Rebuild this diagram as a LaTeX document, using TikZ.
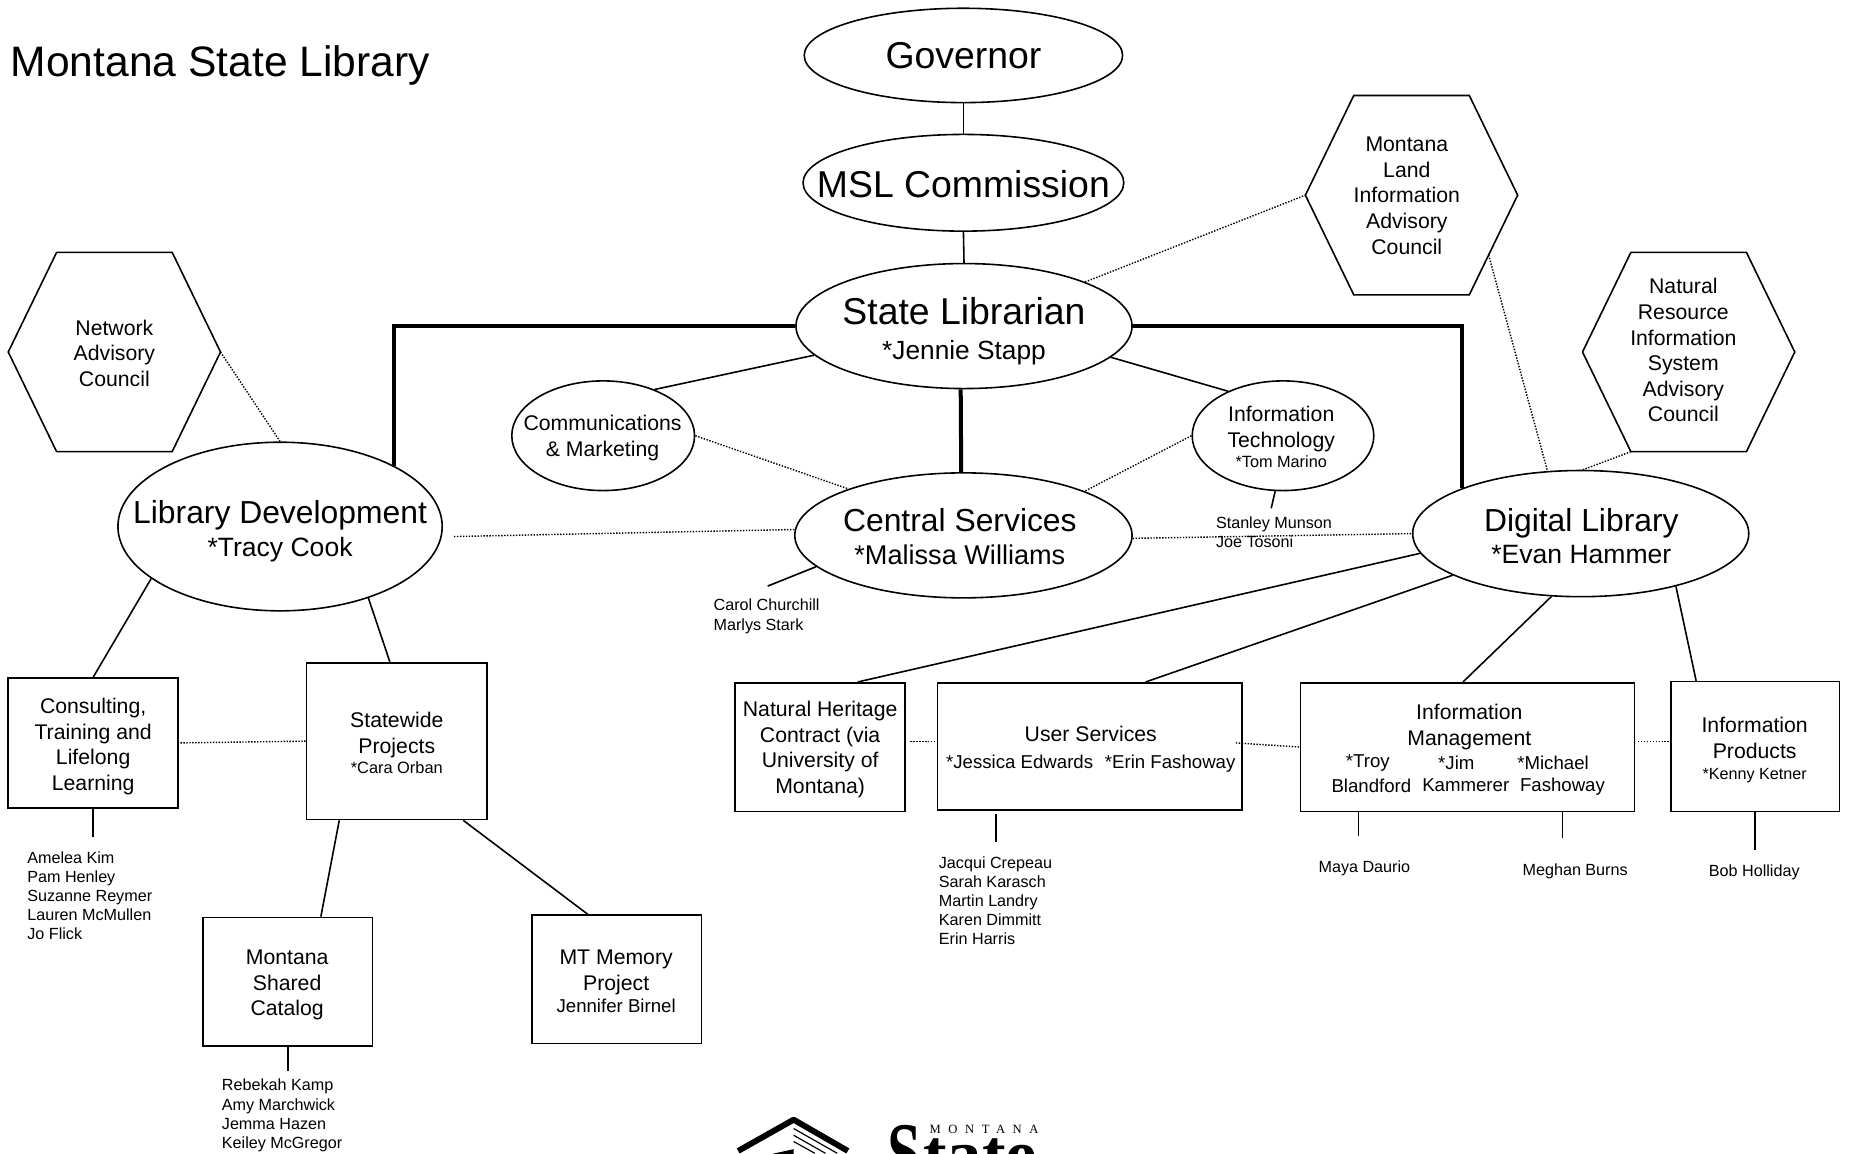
\documentclass[tikz,border=0pt]{standalone}
\usepackage{fontspec}
\setmainfont{Liberation Sans}
\newfontfamily\logoserif[LetterSpace=60]{Liberation Serif}
\newfontfamily\logobold{Liberation Serif}
\usetikzlibrary{calc,shapes.geometric}
\newcommand{\fs}[2]{\fontsize{#1}{#2}\selectfont}
\tikzset{
  shapeline/.style={draw=black,line width=1.35pt},
  ell/.style={ellipse,shapeline,inner sep=0pt,fill=white},
  boxn/.style={rectangle,shapeline,inner sep=0pt},
  txt/.style={inner sep=0pt,align=center},
  boxt/.style={txt,font=\fs{18}{21.7}},
  names/.style={inner sep=0pt,align=left,anchor=north west,font=\fs{13.7}{16.2}},
  solidc/.style={draw=black,line width=1.35pt},
  thickc/.style={draw=black,line width=3.4pt,line join=miter},
  dotc/.style={draw=black,line width=1.2pt,dash pattern=on 1.2pt off 1.3pt},
}
% a hexagon: named corners around a centre
\newcommand{\hexa}[3]{%
  \coordinate (#1-e) at ({#2+90},#3);
  \coordinate (#1-w) at ({#2-90},#3);
  \coordinate (#1-ne) at ({#2+49},{#3-84.5});
  \coordinate (#1-nw) at ({#2-49},{#3-84.5});
  \coordinate (#1-se) at ({#2+49},{#3+84.5});
  \coordinate (#1-sw) at ({#2-49},{#3+84.5});
  \draw[shapeline] (#1-w)--(#1-nw)--(#1-ne)--(#1-e)--(#1-se)--(#1-sw)--cycle;
}
\begin{document}
\begin{tikzpicture}[x=1pt,y=-1pt]
\useasboundingbox (0,0) rectangle (1568,978);
\clip (0,0) rectangle (1568,978);

\node[inner sep=0pt,anchor=base west,font=\fs{36.1}{40}] (title) at (9,65) {Montana State Library};

% ellipses
\node[ell,minimum width=270pt,minimum height=80pt] (gov) at (817,47) {};
\node[ell,minimum width=272pt,minimum height=82pt] (msl) at (817,155) {};
\node[ell,minimum width=285pt,minimum height=106pt] (sl) at (817.5,276.5) {};
\node[ell,minimum width=286pt,minimum height=106pt] (cs) at (817,454) {};
\node[ell,minimum width=285pt,minimum height=107pt] (dl) at (1340.5,452.5) {};
\node[ell,minimum width=275pt,minimum height=143pt] (ld) at (237.5,446.5) {};
\node[ell,minimum width=155pt,minimum height=93pt] (comm) at (511.5,369.5) {};
\node[ell,minimum width=154pt,minimum height=93pt] (it) at (1088,369.5) {};

% hexagons
\hexa{nac}{97}{298.5}
\hexa{mliac}{1197}{165.5}
\hexa{nris}{1432}{298.5}
\node[boxt] (nact) at (97,299.5) {Network\\Advisory\\Council};
\node[boxt] (mliact) at (1193,166) {Montana\\Land\\Information\\Advisory\\Council};
\node[boxt] (nrist) at (1427.5,297) {Natural\\Resource\\Information\\System\\Advisory\\Council};

% boxes
\node[boxn,minimum width=144pt,minimum height=110pt] (cons) at (79,630) {};
\node[boxn,minimum width=153pt,minimum height=133pt] (sw) at (336.5,628.5) {};
\node[boxn,minimum width=144pt,minimum height=109pt] (shared) at (244,832.5) {};
\node[boxn,minimum width=144pt,minimum height=109pt] (mem) at (523,830.5) {};
\node[boxn,minimum width=144pt,minimum height=109pt] (nh) at (695.5,633.5) {};
\node[boxn,minimum width=258pt,minimum height=108pt] (us) at (924,633) {};
\node[boxn,minimum width=283pt,minimum height=109pt] (im) at (1244.5,633.5) {};
\node[boxn,minimum width=143pt,minimum height=110pt] (ip) at (1488.5,633) {};

% box texts
\node[boxt] (const) at (79,633) {Consulting,\\Training and\\Lifelong\\Learning};
\node[boxt] (swt) at (336.5,630) {Statewide\\Projects\\[-5pt]\fs{13.9}{17}*Cara Orban};
\node[boxt] (sharedt) at (243.5,835.5) {Montana\\Shared\\Catalog};
\node[boxt] (memt) at (522.5,832) {MT Memory\\Project\\[-3pt]\fs{15.8}{20}Jennifer Birnel};
\node[boxt] (nht) at (695.5,635.5) {Natural Heritage\\Contract (via\\University of\\Montana)};
\node[boxt] (ust) at (925,635.5) {User Services\\[1pt]\fs{15.8}{23}*Jessica Edwards\hspace{10pt}*Erin Fashoway};
\node[boxt] (ipt) at (1488,636) {Information\\Products\\[-4pt]\fs{13.7}{19}*Kenny Ketner};

% ellipse texts
\node[txt,font=\fs{31.7}{34}] (govt) at (817,47.5) {Governor};
\node[txt,font=\fs{31.7}{34}] (mslt) at (817,156) {MSL Commission};
\node[txt] (slt) at (817.5,281) {\fs{31.7}{34}State Librarian\\[12pt]\fs{22.3}{32}*Jennie Stapp};
\node[txt] (cst) at (814,455) {\fs{27}{30}Central Services\\[10pt]\fs{23}{30}*Malissa Williams};
\node[txt] (dlt) at (1341,454.5) {\fs{27}{30}Digital Library\\[5pt]\fs{22.5}{29}*Evan Hammer};
\node[txt] (ldt) at (237.5,450.5) {\fs{27}{30}Library Development\\[5pt]\fs{22.5}{29}*Tracy Cook};
\node[boxt] (commt) at (511,371.5) {Communications\\\& Marketing};
\node[boxt] (itt) at (1086.5,370.5) {Information\\ Technology\\[-4.5pt]\fs{13.8}{17}*Tom Marino};

% information management texts
\node[boxt] (imt) at (1246,616.5) {Information\\Management};
\node[txt,font=\fs{15.8}{19}] (im1a) at (1160,647) {*Troy};
\node[txt,font=\fs{15.8}{19}] (im2a) at (1235,647) {*Jim};
\node[txt,font=\fs{15.8}{19}] (im3a) at (1317,647) {*Michael};
\node[txt,font=\fs{15.8}{19}] (im1b) at (1163,666) {Blandford};
\node[txt,font=\fs{15.8}{19}] (im2b) at (1243,666) {Kammerer};
\node[txt,font=\fs{15.8}{19}] (im3b) at (1325,667) {Fashoway};

% staff lists
\node[names] (n-cons) at (23,722) {Amelea Kim\\Pam Henley\\Suzanne Reymer\\Lauren McMullen\\Jo Flick};
\node[names] (n-shared) at (188,915) {Rebekah Kamp\\Amy Marchwick\\Jemma Hazen\\Keiley McGregor};
\node[names] (n-us) at (796,726) {Jacqui Crepeau\\Sarah Karasch\\Martin Landry\\Karen Dimmitt\\Erin Harris};
\node[names] (n-cs) at (605,508) {Carol Churchill\\Marlys Stark};
\node[names] (n-it) at (1031,438) {Stanley Munson\\Joe Tosoni};
\node[names] (n-maya) at (1118,730) {Maya Daurio};
\node[names] (n-meghan) at (1291,732) {Meghan Burns};
\node[names] (n-bob) at (1449,733) {Bob Holliday};

% free ends
\coordinate (e-cons) at (79,710);
\coordinate (e-shared) at (244,908);
\coordinate (e-us) at (844.5,714);
\coordinate (e-im1) at (1152,709);
\coordinate (e-im2) at (1325,711);
\coordinate (e-ip) at (1488.5,721);
\coordinate (e-it) at (1078,431);
\coordinate (e-cs) at (651,497);
\coordinate (gap-ld) at (385,455);
\coordinate (gap-nh) at (772,629);
\coordinate (gap-cons) at (153,630);
\coordinate (gap-us) at (1048,630);
\coordinate (gap-im) at (1389,629);

% solid connectors
\draw[solidc] (gov.south) -- (msl.north);
\draw[solidc] (msl.south) -- (sl.north);
\draw[solidc] (sl.191.7) -- (comm.42.2);
\draw[solidc] (sl.348.5) -- (it.141.6);
\draw[solidc] (dl.187.3) -- (nh.60);
\draw[solidc] (dl.198.1) -- (us.49);
\draw[solidc] (dl.245.2) -- (im.94.7);
\draw[solidc] (dl.331.1) -- (ip.132);
\draw[solidc] (ld.202.9) -- (cons.north);
\draw[solidc] (ld.321.8) -- (sw.95.6);
\draw[solidc] (sw.234.5) -- (shared.63.6);
\draw[solidc] (sw.310.8) -- (mem.114.6);
\draw[solidc] (cons.south) -- (e-cons);
\draw[solidc] (shared.south) -- (e-shared);
\draw[solidc,shorten <=3pt] (e-us |- us.south) -- (e-us);
\draw[solidc] (e-im1 |- im.south) -- (e-im1);
\draw[solidc] (e-im2 |- im.south) -- (e-im2);
\draw[solidc] (e-ip |- ip.south) -- (e-ip);
\draw[solidc] (it.262.6) -- (e-it);
\draw[solidc] (cs.192) -- (e-cs);

% thick connectors
\draw[thickc] (sl.west) -| (ld.28);
\draw[thickc] (sl.east) -| (dl.159.3);
\draw[thickc] (sl.267) -- (cs.92.2);

% dotted connectors
\draw[dotc] (comm.east) -- (cs.158.9);
\draw[dotc] (it.west) -- (cs.20.7);
\draw[dotc] (gap-ld) -- (cs.178.8);
\draw[dotc] (cs.359.6) -- (dl.west);
\draw[dotc] (sl.20.7) -- (mliac-w);
\draw[dotc] ($(mliac-e)!.6!(mliac-se)$) -- (dl.118.5);
\draw[dotc] (nris-sw) -- (dl.88.4);
\draw[dotc] (nac-e) -- (ld.north);
\draw[dotc] (gap-cons) -- (sw.west);
\draw[dotc] (gap-nh) -- (us.west |- gap-nh);
\draw[dotc] (gap-us) -- (im.west);
\draw[dotc] (gap-im) -- (ip.west |- gap-im);

% logo
\draw[draw=black,line width=5pt,line join=round] (626,976) -- (673,949.5) -- (719,976);
\draw[black,line width=1pt] (673,957) -- (710,978);
\draw[black,line width=1pt] (673,962.7) -- (700,978);
\draw[black,line width=1pt] (673,968) -- (691,978);
\fill[black] (673,974.5) -- (655,978.5) -- (673,978.5) -- cycle;
\node[inner sep=0pt,font=\logoserif\fs{10.7}{12}] (lg-m) at (834.5,957.5) {MONTANA};
\node[inner sep=0pt,anchor=base west,font=\logobold\bfseries\fs{60}{60}] (lg-s) at (752,1002) {{\fs{72}{72}\scalebox{.72}[1]{S}}\hspace{2pt}\raisebox{3pt}{tate}};
\end{tikzpicture}
\end{document}
